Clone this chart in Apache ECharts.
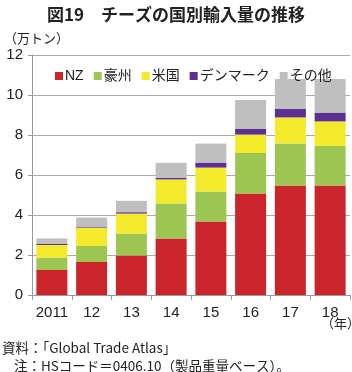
<!DOCTYPE html>
<html><head><meta charset="utf-8">
<script src="https://cdn.jsdelivr.net/npm/echarts@6/dist/echarts.min.js"></script>
<style>html,body{margin:0;padding:0;background:#fff}#c{width:352px;height:372px}</style>
</head><body><div id="c"></div>
<script>
const categories = ['2011','12','13','14','15','16','17','18'];
const nz      = [1.25, 1.65, 1.97, 2.83, 3.67, 5.08, 5.47, 5.47];
const aus     = [0.62, 0.80, 1.10, 1.75, 1.50, 2.02, 2.11, 1.98];
const usa     = [0.63, 0.92, 1.00, 1.20, 1.20, 0.92, 1.30, 1.23];
const denmark = [0.05, 0.05, 0.07, 0.08, 0.25, 0.28, 0.42, 0.44];
const other   = [0.28, 0.45, 0.57, 0.75, 0.95, 1.45, 1.50, 1.68];
const seriesNames = ['NZ','豪州','米国','デンマーク','その他'];
const yTicks = [0, 2, 4, 6, 8, 10, 12];

const colors = ['#c9252b','#9cc552','#f3ea2b','#5c2f92','#bfbfbf'];
const FONT = '"Liberation Sans","Noto Sans CJK JP",sans-serif';
const JP = '"Noto Sans CJK JP",sans-serif';
const chart = echarts.init(document.getElementById('c'), null, {renderer:'canvas'});
const data = [nz, aus, usa, denmark, other];
chart.setOption({
  animation: false,
  color: colors,
  title: [
    {text:'図19　チーズの国別輸入量の推移', left:'center', top:1,
     textStyle:{fontFamily:JP, fontSize:17, fontWeight:'bold', color:'#222'}},
  ],
  graphic: [
    {type:'text', left:4, top:32, style:{text:'（万トン）', font:'13px '+JP, fill:'#222'}},
    {type:'text', left:321, top:317, style:{text:'（年）', font:'13px '+JP, fill:'#222'}},
    {type:'text', left:2, top:341, style:{text:'資料：「Global Trade Atlas」', font:'13.5px '+JP, fill:'#222'}},
    {type:'text', left:14, top:359, style:{text:'注：HSコード＝0406.10（製品重量ベース）。', font:'13.5px '+JP, fill:'#222'}}
  ],
  legend: {
    data: seriesNames, left: 50, top: 64, itemWidth: 8, itemHeight: 8, itemGap: 10,
    icon: 'rect', z: 10,
    textStyle: {fontFamily: FONT, fontSize: 14, color:'#222', padding:[0,0,0,-3]}
  },
  grid: {left: 32, right: 2, top: 55, bottom: 77, containLabel:false},
  xAxis: {
    type:'category', data: categories,
    axisLine:{lineStyle:{color:'#999'}},
    axisTick:{show:true, length:5, lineStyle:{color:'#999'}},
    axisLabel:{interval:0, fontFamily:FONT, fontSize:15, color:'#222', margin:10}
  },
  yAxis: {
    type:'value', min: yTicks[0], max: yTicks[yTicks.length-1], interval: 2,
    axisLine:{show:true, lineStyle:{color:'#999'}},
    axisTick:{show:true, length:4, lineStyle:{color:'#999'}},
    splitLine:{lineStyle:{color:'#aaa'}},
    axisLabel:{fontFamily:FONT, fontSize:15, color:'#222', margin:9}
  },
  series: seriesNames.map((n,i)=>({
    name:n, type:'bar', stack:'t', data:data[i], barCategoryGap:'22%'
  }))
});
</script></body></html>
